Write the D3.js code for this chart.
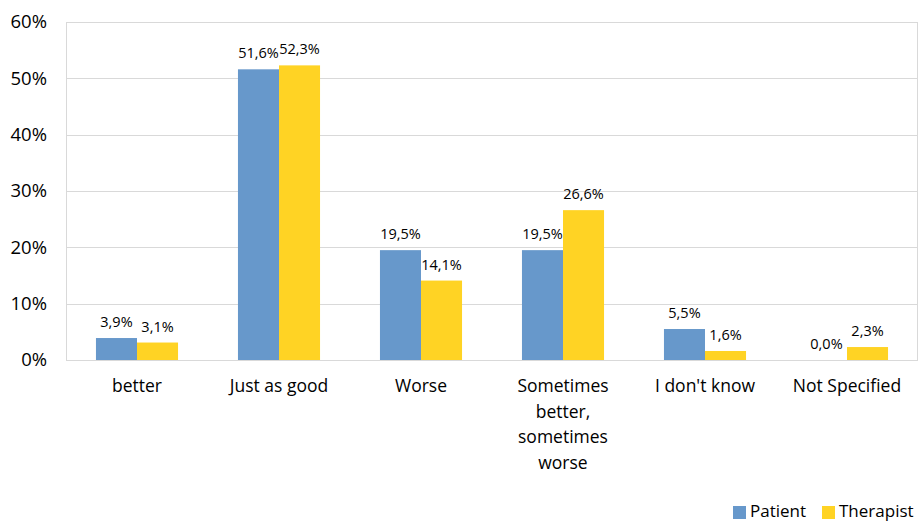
<!DOCTYPE html>
<html><head><meta charset="utf-8">
<script src="https://cdn.jsdelivr.net/npm/d3@7"></script>
<style>body{margin:0;background:#fff}svg{display:block;font-family:"Open Sans",sans-serif}</style>
</head><body><svg id="c" width="921" height="521"></svg>
<script>
const categories = ["better","Just as good","Worse","Sometimes better, sometimes worse","I don't know","Not Specified"];
const categoryLines = [["better"],["Just as good"],["Worse"],["Sometimes","better,","sometimes","worse"],["I don't know"],["Not Specified"]];
const seriesNames = ["Patient","Therapist"];
const patient = [3.9,51.6,19.5,19.5,5.5,0.0];
const therapist = [3.1,52.3,14.1,26.6,1.6,2.3];
const yTicks = [0,10,20,30,40,50,60];
const colors = ["#6798CB","#FFD324"];

const svg = d3.select("#c");
const m = {l:66,r:3,t:22,b:161};
const W = 921, H = 521;
const x = d3.scaleBand().domain(categories).range([m.l, W-m.r]).paddingInner(0).paddingOuter(0);
const x1 = d3.scaleBand().domain(seriesNames).range([0, x.bandwidth()]).paddingInner(0).paddingOuter(0.73);
const y = d3.scaleLinear().domain([0,60]).range([H-m.b, m.t]);

// gridlines
svg.append("g").selectAll("line").data(yTicks).join("line")
  .attr("x1",m.l).attr("x2",W-m.r).attr("y1",d=>Math.round(y(d))+0.5).attr("y2",d=>Math.round(y(d))+0.5)
  .attr("stroke","#d9d9d9").attr("stroke-width",1);
// frame
svg.append("rect").attr("x",m.l+0.5).attr("y",Math.round(y(60))+0.5).attr("width",W-m.r-m.l-1).attr("height",Math.round(y(0))-Math.round(y(60)))
  .attr("fill","none").attr("stroke","#d9d9d9");

// y axis labels
const yAxis = d3.axisLeft(y).tickValues(yTicks).tickFormat(d=>d+"%").tickSize(0).tickPadding(19);
const ga = svg.append("g").attr("transform",`translate(${m.l},0)`).call(yAxis);
ga.select(".domain").remove();
ga.selectAll("text").attr("font-size",18.5).attr("fill","#000").attr("font-family","'Open Sans',sans-serif");

const data = categories.map((c,i)=>({c, vals:[patient[i],therapist[i]]}));
const g = svg.append("g");
data.forEach((d,i)=>{
  d.vals.forEach((v,j)=>{
    const bx = x(d.c)+x1(seriesNames[j]);
    g.append("rect").attr("x",bx).attr("y",y(v)).attr("width",x1.bandwidth()).attr("height",y(0)-y(v)).attr("fill",colors[j]);
    g.append("text").attr("x",bx+x1.bandwidth()/2).attr("y",y(v)-11).attr("text-anchor","middle")
      .attr("font-size",14.5).attr("fill","#000").text(v.toFixed(1).replace(".",",")+"%");
  });
  const t = g.append("text").attr("text-anchor","middle").attr("font-size",17.5).attr("fill","#000");
  categoryLines[i].forEach((ln,k)=>{
    t.append("tspan").attr("x",x(d.c)+x.bandwidth()/2).attr("y",y(0)+32+k*25.5).text(ln);
  });
});

// legend
const leg = svg.append("g");
const legX = [733,822];
seriesNames.forEach((s,j)=>{
  leg.append("rect").attr("x",legX[j]).attr("y",506).attr("width",13).attr("height",13).attr("fill",colors[j]);
  leg.append("text").attr("x",legX[j]+17).attr("y",517).attr("font-size",17).attr("fill","#000").text(s);
});
</script></body></html>
